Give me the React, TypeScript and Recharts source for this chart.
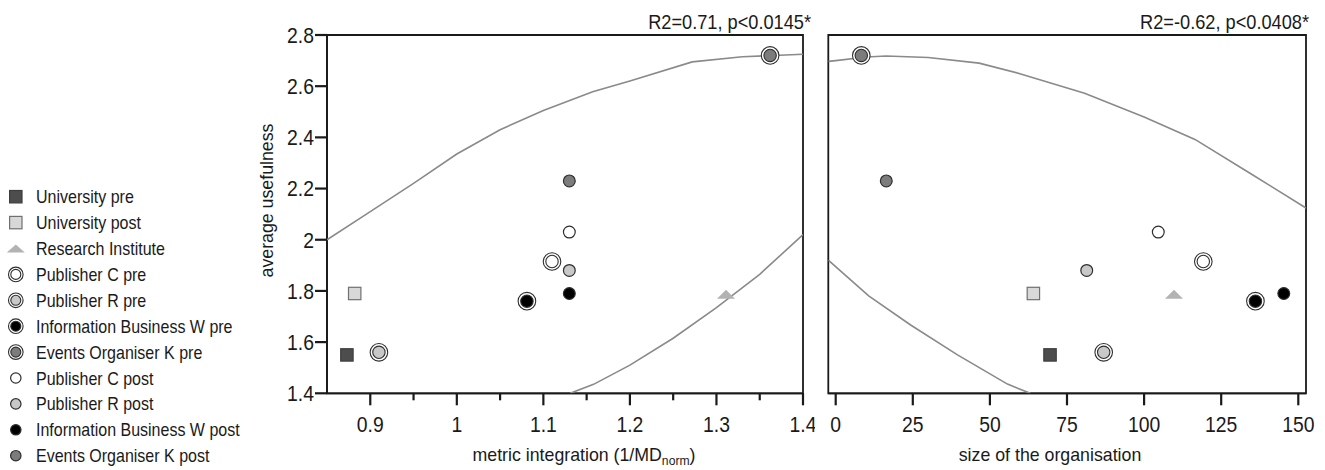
import React from 'react';
import { ScatterChart, Scatter, XAxis, YAxis, ReferenceArea } from 'recharts';

// ---------- data ----------
const categories = [
  'University pre',
  'University post',
  'Research Institute',
  'Publisher C pre',
  'Publisher R pre',
  'Information Business W pre',
  'Events Organiser K pre',
  'Publisher C post',
  'Publisher R post',
  'Information Business W post',
  'Events Organiser K post',
];
const usefulness = [1.55, 1.79, 1.787, 1.915, 1.56, 1.76, 2.72, 2.03, 1.88, 1.79, 2.23];
const metricIntegration = [0.873, 0.882, 1.311, 1.11, 0.91, 1.081, 1.362, 1.13, 1.13, 1.13, 1.13];
const organisationSize = [69.5, 64.1, 109.7, 119.2, 86.9, 136.1, 8.3, 104.6, 81.4, 145.3, 16.4];

const leftUpperX = [0.85, 0.9, 0.95, 1.0, 1.05, 1.1, 1.157, 1.2, 1.272, 1.33, 1.4];
const leftUpperY = [2.0, 2.11, 2.22, 2.335, 2.43, 2.505, 2.578, 2.62, 2.695, 2.715, 2.725];
const leftLowerX = [1.131, 1.158, 1.2, 1.25, 1.3, 1.35, 1.4];
const leftLowerY = [1.4, 1.435, 1.51, 1.615, 1.735, 1.865, 2.02];

const rightUpperX = [-2.4, 0, 10, 16.4, 30, 46.5, 60, 80.7, 100, 116.5, 135, 152.5];
const rightUpperY = [2.697, 2.7, 2.714, 2.718, 2.712, 2.69, 2.648, 2.572, 2.48, 2.392, 2.255, 2.124];
const rightLowerX = [-2.4, 10.7, 24.3, 39.5, 55.7, 63.1];
const rightLowerY = [1.92, 1.781, 1.667, 1.55, 1.436, 1.4];

const yTicks = [1.4, 1.6, 1.8, 2, 2.2, 2.4, 2.6, 2.8];
const leftXTicks = [0.9, 0.95, 1, 1.05, 1.1, 1.15, 1.2, 1.25, 1.3, 1.35, 1.4];
const leftXMajor = [0.9, 1, 1.1, 1.2, 1.3, 1.4];
const rightXTicks = [0, 25, 50, 75, 100, 125, 150];

const leftDomain = [0.85, 1.4];
const rightDomain = [-2.4, 152.5];
const yDomain = [1.4, 2.8];

const leftTitle = 'R2=0.71, p<0.0145*';
const rightTitle = 'R2=-0.62, p<0.0408*';
const yLabel = 'average usefulness';
const leftXLabel = 'metric integration (1/MD';
const leftXLabelSub = 'norm';
const rightXLabel = 'size of the organisation';

// ---------- styles ----------
const FONT = '"Liberation Sans", Arial, Helvetica, sans-serif';
const TEXT = '#1a1a1a';
const AXIS = '#1a1a1a';
const CURVE = '#8a8a8a';
const MS = '#2e2e2e';
const TICK_FS = 22;
const TICK_SX = 0.88;
const TICK_W = 2.2;

type Kind = 'square' | 'triangle' | 'ring' | 'dot';
const markerStyle: Record<string, { kind: Kind; fill: string; stroke: string }> = {
  'University pre': { kind: 'square', fill: '#4d4d4d', stroke: '#3f3f3f' },
  'University post': { kind: 'square', fill: '#d8d8d8', stroke: '#707070' },
  'Research Institute': { kind: 'triangle', fill: '#b3b3b3', stroke: 'none' },
  'Publisher C pre': { kind: 'ring', fill: '#ffffff', stroke: MS },
  'Publisher R pre': { kind: 'ring', fill: '#c8c8c8', stroke: MS },
  'Information Business W pre': { kind: 'ring', fill: '#000000', stroke: MS },
  'Events Organiser K pre': { kind: 'ring', fill: '#7c7c7c', stroke: MS },
  'Publisher C post': { kind: 'dot', fill: '#ffffff', stroke: MS },
  'Publisher R post': { kind: 'dot', fill: '#c8c8c8', stroke: MS },
  'Information Business W post': { kind: 'dot', fill: '#000000', stroke: MS },
  'Events Organiser K post': { kind: 'dot', fill: '#7c7c7c', stroke: MS },
};

function renderMarker(name: string, cx: number, cy: number, legend = false) {
  const s = markerStyle[name];
  if (s.kind === 'square') {
    const h = 6.2;
    return <rect x={cx - h} y={cy - h} width={2 * h} height={2 * h} fill={s.fill} stroke={s.stroke} strokeWidth={1.2} />;
  }
  if (s.kind === 'triangle') {
    const w = 9;
    const h = legend ? 4 : 4.5;
    return <polygon points={`${cx - w},${cy + h} ${cx + w},${cy + h} ${cx},${cy - h}`} fill={s.fill} />;
  }
  if (s.kind === 'ring') {
    const ro = legend ? 7.3 : 8.8;
    const ri = legend ? 5 : 6.2;
    return (
      <g>
        <circle cx={cx} cy={cy} r={ro} fill="#ffffff" stroke={s.stroke} strokeWidth={1.1} />
        <circle cx={cx} cy={cy} r={ri} fill={s.fill} stroke={s.stroke} strokeWidth={1.1} />
      </g>
    );
  }
  const r = legend ? 5.2 : 5.9;
  return <circle cx={cx} cy={cy} r={r} fill={s.fill} stroke={s.stroke} strokeWidth={1.2} />;
}

// condensed text helper
function CText(props: {
  x: number;
  y: number;
  size: number;
  sx: number;
  anchor?: 'start' | 'middle' | 'end';
  rotate?: number;
  children: React.ReactNode;
}) {
  const { x, y, size, sx, anchor = 'start', rotate = 0, children } = props;
  return (
    <text
      transform={`translate(${x},${y}) rotate(${rotate}) scale(${sx},1)`}
      x={0}
      y={0}
      fontSize={size}
      fontFamily={FONT}
      fill={TEXT}
      textAnchor={anchor}
    >
      {children}
    </text>
  );
}

const toPoints = (xs: number[], ys: number[]) => xs.map((x, i) => ({ x, y: ys[i] }));

const emptyShape = () => <g />;

const LeftXTick = (props: any) => {
  const { x, y, payload } = props;
  const v = payload.value as number;
  const major = leftXMajor.some((m) => Math.abs(m - v) < 1e-9);
  return (
    <g>
      <line x1={x} x2={x} y1={y} y2={y + (major ? 12 : 7)} stroke={AXIS} strokeWidth={TICK_W} />
      {major && (
        <CText x={x} y={y + 39} size={TICK_FS} sx={TICK_SX} anchor="middle">
          {String(v)}
        </CText>
      )}
    </g>
  );
};

const RightXTick = (props: any) => {
  const { x, y, payload } = props;
  return (
    <g>
      <line x1={x} x2={x} y1={y} y2={y + 12} stroke={AXIS} strokeWidth={TICK_W} />
      <CText x={x} y={y + 39} size={TICK_FS} sx={TICK_SX} anchor="middle">
        {String(payload.value)}
      </CText>
    </g>
  );
};

const LeftYTick = (props: any) => {
  const { x, y, payload } = props;
  return (
    <g>
      <line x1={x - 12} x2={x} y1={y} y2={y} stroke={AXIS} strokeWidth={TICK_W} />
      <CText x={x - 13} y={y + 7.9} size={TICK_FS} sx={TICK_SX} anchor="end">
        {String(payload.value)}
      </CText>
    </g>
  );
};

function Curves(curves: { x: number[]; y: number[] }[]) {
  return curves.map((c, i) => (
    <Scatter
      key={'c' + i}
      data={toPoints(c.x, c.y)}
      line={{ stroke: CURVE, strokeWidth: 1.6 }}
      lineType="joint"
      shape={emptyShape}
      isAnimationActive={false}
      legendType="none"
    />
  ));
}

function LeftChart() {
  return (
    <ScatterChart width={815} height={470} margin={{ top: 35, right: 12, bottom: 36.7, left: 267 }}>
      <XAxis
        dataKey="x"
        type="number"
        domain={leftDomain}
        ticks={leftXTicks}
        interval={0}
        height={40}
        allowDataOverflow
        axisLine={{ stroke: AXIS, strokeWidth: 1.8 }}
        tickLine={false}
        tickSize={0}
        tickMargin={0}
        tick={<LeftXTick />}
      />
      <YAxis
        dataKey="y"
        type="number"
        domain={yDomain}
        ticks={yTicks}
        interval={0}
        width={60}
        allowDataOverflow
        axisLine={{ stroke: AXIS, strokeWidth: 1.8 }}
        tickLine={false}
        tickSize={0}
        tickMargin={0}
        tick={<LeftYTick />}
      />
      <ReferenceArea
        x1={leftDomain[0]}
        x2={leftDomain[1]}
        y1={yDomain[0]}
        y2={yDomain[1]}
        fill="none"
        fillOpacity={0}
        stroke={AXIS}
        strokeWidth={1.8}
      />
      {Curves([
        { x: leftUpperX, y: leftUpperY },
        { x: leftLowerX, y: leftLowerY },
      ])}
      {categories.map((name, i) => (
        <Scatter
          key={name}
          name={name}
          data={[{ x: metricIntegration[i], y: usefulness[i] }]}
          shape={(p: any) => renderMarker(name, p.cx, p.cy)}
          isAnimationActive={false}
        />
      ))}
    </ScatterChart>
  );
}

function RightChart() {
  return (
    <ScatterChart width={505} height={470} margin={{ top: 35, right: 19, bottom: 36.7, left: 8.3 }}>
      <XAxis
        dataKey="x"
        type="number"
        domain={rightDomain}
        ticks={rightXTicks}
        interval={0}
        height={40}
        allowDataOverflow
        axisLine={{ stroke: AXIS, strokeWidth: 1.8 }}
        tickLine={false}
        tickSize={0}
        tickMargin={0}
        tick={<RightXTick />}
      />
      <YAxis dataKey="y" type="number" domain={yDomain} hide allowDataOverflow />
      <ReferenceArea
        x1={rightDomain[0]}
        x2={rightDomain[1]}
        y1={yDomain[0]}
        y2={yDomain[1]}
        fill="none"
        fillOpacity={0}
        stroke={AXIS}
        strokeWidth={1.8}
      />
      {Curves([
        { x: rightUpperX, y: rightUpperY },
        { x: rightLowerX, y: rightLowerY },
      ])}
      {categories.map((name, i) => (
        <Scatter
          key={name}
          name={name}
          data={[{ x: organisationSize[i], y: usefulness[i] }]}
          shape={(p: any) => renderMarker(name, p.cx, p.cy)}
          isAnimationActive={false}
        />
      ))}
    </ScatterChart>
  );
}

function Overlay() {
  return (
    <svg width={1325} height={470} style={{ position: 'absolute', left: 0, top: 0, pointerEvents: 'none' }}>
      {categories.map((name, i) => {
        const cy = 196.7 + i * 25.9;
        return (
          <g key={name}>
            {renderMarker(name, 15.8, cy, true)}
            <CText x={36} y={cy + 6.5} size={18} sx={0.89}>
              {name}
            </CText>
          </g>
        );
      })}
      <CText x={811} y={29} size={20} sx={0.91} anchor="end">
        {leftTitle}
      </CText>
      <CText x={1309} y={29} size={20} sx={0.91} anchor="end">
        {rightTitle}
      </CText>
      <CText x={273} y={200.5} size={19} sx={0.935} anchor="middle" rotate={-90}>
        {yLabel}
      </CText>
      <CText x={584} y={461} size={19} sx={0.935} anchor="middle">
        {leftXLabel}
        <tspan fontSize={13} dy={4}>
          {leftXLabelSub}
        </tspan>
        <tspan dy={-4}>)</tspan>
      </CText>
      <CText x={1050} y={461} size={19} sx={0.935} anchor="middle">
        {rightXLabel}
      </CText>
    </svg>
  );
}

export default function App() {
  return (
    <div style={{ position: 'absolute', left: 0, top: 0, width: 1325, height: 470, background: '#ffffff', overflow: 'hidden' }}>
      <div style={{ position: 'absolute', left: 0, top: 0 }}>
        <LeftChart />
      </div>
      <div style={{ position: 'absolute', left: 820, top: 0 }}>
        <RightChart />
      </div>
      <Overlay />
    </div>
  );
}
